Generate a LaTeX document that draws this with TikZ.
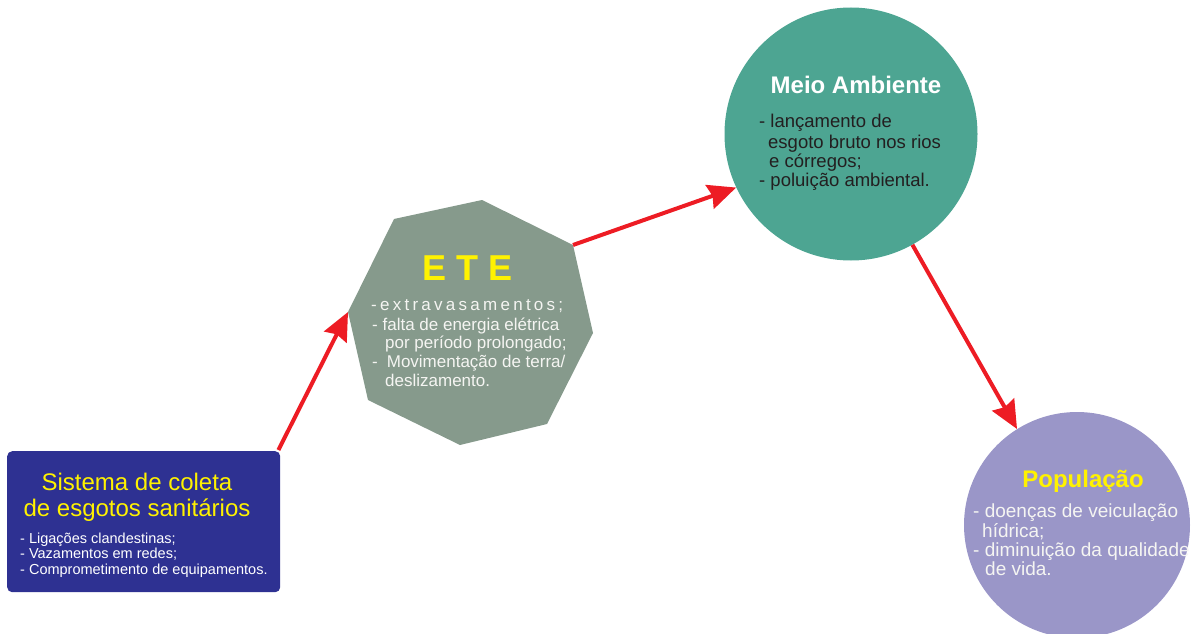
\documentclass[tikz,border=0pt]{standalone}
\usepackage{fontspec}
\setmainfont{Liberation Sans}
\usetikzlibrary{arrows.meta}
\definecolor{boxblue}{HTML}{2E3192}
\definecolor{etegray}{HTML}{869A8C}
\definecolor{teal}{HTML}{4DA592}
\definecolor{lav}{HTML}{9A96C8}
\definecolor{arrred}{HTML}{ED1C24}
\definecolor{ylw}{HTML}{FFF200}
\definecolor{dark}{HTML}{231F20}
\definecolor{offwhite}{HTML}{F5F5F2}
\tikzset{
  txt/.style={inner sep=0pt, anchor=base west},
  ttl/.style={inner sep=0pt, anchor=base},
  flow/.style={draw=arrred, line width=4pt, -{Stealth[length=28pt,width=25pt,inset=3pt]}},
}
\begin{document}
\begin{tikzpicture}[x=1pt,y=-1pt]
\useasboundingbox (0,0) rectangle (1195,634);
% Sistema box
\node[fill=boxblue, rounded corners=5pt, minimum width=273pt, minimum height=141pt, inner sep=0pt, anchor=north west] (sis) at (7,451) {};
\node[ttl, font=\fontsize{24}{26}\selectfont, text=ylw] (sis1) at (137,490) {Sistema de coleta};
\node[ttl, font=\fontsize{24}{26}\selectfont, text=ylw] (sis2) at (137,516) {de esgotos sanitários};
\node[txt, font=\fontsize{14.5}{16}\selectfont, text=white] (sis3) at (20,543) {- Ligações clandestinas;};
\node[txt, font=\fontsize{14.5}{16}\selectfont, text=white] (sis4) at (20,558.5) {- Vazamentos em redes;};
\node[txt, font=\fontsize{14.5}{16}\selectfont, text=white] (sis5) at (20,574) {- Comprometimento de equipamentos.};
% ETE polygon
\coordinate (v1) at (482,200);
\coordinate (v2) at (573,245);
\coordinate (v3) at (593,333);
\coordinate (v4) at (547,424);
\coordinate (v5) at (460,445);
\coordinate (v6) at (368,400);
\coordinate (v7) at (348,312);
\coordinate (v8) at (394,219);
\fill[etegray] (v1) -- (v2) -- (v3) -- (v4) -- (v5) -- (v6) -- (v7) -- (v8) -- cycle;
\node[ttl, font=\fontsize{36}{38}\selectfont\bfseries, text=ylw] (ete) at (468,280) {E T E};
\node[txt, font=\fontsize{17}{19}\selectfont, text=offwhite] (ete1) at (371,310.5) {\makebox[192pt][s]{-\hfill e\hfill x\hfill t\hfill r\hfill a\hfill v\hfill a\hfill s\hfill a\hfill m\hfill e\hfill n\hfill t\hfill o\hfill s\hfill ;}};
\node[txt, font=\fontsize{17}{19}\selectfont, text=offwhite] (ete2) at (372,330) {- falta de energia elétrica};
\node[txt, font=\fontsize{17}{19}\selectfont, text=offwhite] (ete3) at (385,348) {por período prolongado;};
\node[txt, font=\fontsize{17}{19}\selectfont, text=offwhite] (ete4) at (372,367) {-\hspace{9pt}Movimentação de terra/};
\node[txt, font=\fontsize{17}{19}\selectfont, text=offwhite] (ete5) at (385,386) {deslizamento.};
% Meio Ambiente
\node[circle, fill=teal, minimum size=253pt, inner sep=0pt] (ma) at (851,134) {};
\node[ttl, font=\fontsize{24}{26}\selectfont\bfseries, text=white] (ma0) at (856,94) {Meio Ambiente};
\node[txt, font=\fontsize{18.5}{20}\selectfont, text=dark] (ma1) at (759,128) {- lançamento de};
\node[txt, font=\fontsize{18.5}{20}\selectfont, text=dark] (ma2) at (768,148) {esgoto bruto nos rios};
\node[txt, font=\fontsize{18.5}{20}\selectfont, text=dark] (ma3) at (769,167) {e córregos;};
\node[txt, font=\fontsize{18.5}{20}\selectfont, text=dark] (ma4) at (759,186) {- poluição ambiental.};
% Populacao
\node[circle, fill=lav, minimum size=226pt, inner sep=0pt] (pop) at (1077,525) {};
\node[ttl, font=\fontsize{24}{26}\selectfont\bfseries, text=ylw] (pop0) at (1083,487) {População};
\node[txt, font=\fontsize{19}{21}\selectfont, text=offwhite] (pop1) at (973,517) {- doenças de veiculação};
\node[txt, font=\fontsize{19}{21}\selectfont, text=offwhite] (pop2) at (982,537) {hídrica;};
\node[txt, font=\fontsize{19}{21}\selectfont, text=offwhite] (pop3) at (973,556) {- diminuição da qualidade};
\node[txt, font=\fontsize{19}{21}\selectfont, text=offwhite] (pop4) at (985,575) {de vida.};
% arrows
\draw[flow] ([xshift=-2pt,yshift=1pt]sis.north east) -- (v7);
\draw[flow] (v2) -- (ma.205);
\draw[flow] (ma.299) -- (pop.122);
\end{tikzpicture}
\end{document}
